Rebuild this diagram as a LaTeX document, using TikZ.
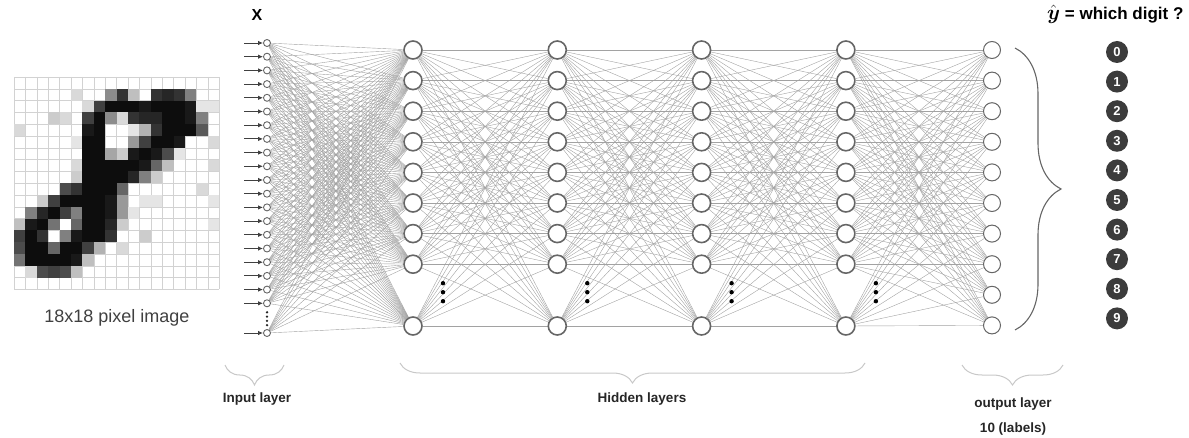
\documentclass[tikz,border=0pt]{standalone}
\usepackage{fontspec}
\setmainfont{Liberation Sans}
\usepackage{amsmath}
\usepackage{amssymb}
\usetikzlibrary{arrows.meta,decorations.pathreplacing,calc,backgrounds}
\definecolor{NodeGray}{HTML}{666666}
\definecolor{EdgeGray}{HTML}{A2A2A2}
\definecolor{DigitDark}{HTML}{3C3C3C}
\definecolor{BraceGray}{HTML}{C8C8C8}
\tikzset{
    innode/.style = {draw=NodeGray, circle, fill=white, inner sep=0pt,
        minimum size=7pt, line width=0.9pt},
    hidnode/.style = {draw=NodeGray, circle, fill=white, inner sep=0pt,
        minimum size=18pt, line width=1.6pt},
    outnode/.style = {draw=NodeGray, circle, fill=white, inner sep=0pt,
        minimum size=17pt, line width=1pt},
    digit/.style = {circle, fill=DigitDark, text=white, inner sep=0pt,
        minimum size=22pt, font=\bfseries\fontsize{13}{13}\selectfont},
    wire/.style = {draw=EdgeGray, line width=0.4pt},
    inarrow/.style = {draw=black!75, line width=0.9pt, -{Latex[length=5pt,width=4.5pt]}},
    pixgrid/.style = {draw=gray!35, line width=0.5pt},
    layerbrace/.style = {draw=BraceGray, line width=1pt, decorate,
        decoration={brace, mirror, amplitude=20pt}},
    outbrace/.style = {draw=NodeGray, line width=1.1pt, decorate,
        decoration={brace, amplitude=46pt}},
    lbl/.style = {font=\bfseries\fontsize{13.5}{14}\selectfont, text=black!85}
}

\begin{document}
\begin{tikzpicture}[x=1pt, y=-1pt]
    \useasboundingbox (0,0) rectangle (1189,438);
    % pixel image
    \foreach \i in {0,...,18}{
        \draw[pixgrid] (14+11.4*\i,77) -- (14+11.4*\i,289.4);
        \draw[pixgrid] (14,77+11.8*\i) -- (219.2,77+11.8*\i);
    }
    \foreach \row [count=\r from 0] in {
        {0,0,0,0,0,0,0,0,0,0,0,0,0,0,0,0,0,0},
        {0,0,0,0,0,15,0,0,45,80,25,0,80,85,80,50,0,0},
        {0,0,0,0,0,0,15,75,95,95,95,90,95,95,95,90,10,10},
        {0,0,0,20,15,0,75,95,45,15,80,85,85,95,95,90,50,0},
        {15,0,0,0,0,0,90,95,0,0,10,30,80,95,95,95,65,0},
        {0,0,0,0,0,10,95,95,0,0,40,75,95,95,90,0,0,15},
        {0,0,0,0,0,0,95,95,35,20,90,95,90,70,10,0,0,0},
        {0,0,0,0,0,15,95,95,95,95,95,90,60,25,0,0,0,15},
        {0,0,0,0,0,20,95,95,95,95,85,50,20,0,0,0,0,0},
        {0,0,0,0,70,80,95,95,95,60,0,0,0,0,0,0,15,0},
        {0,0,20,75,95,95,95,95,90,40,0,10,10,0,0,0,0,10},
        {0,50,85,95,75,50,95,95,90,40,10,0,0,0,0,0,0,0},
        {25,90,95,55,0,60,95,95,85,20,0,0,0,0,0,0,0,10},
        {75,95,80,0,50,90,95,95,80,0,0,20,0,0,0,0,0,0},
        {70,95,95,60,95,95,75,30,0,15,0,0,0,0,0,0,0,0},
        {55,95,95,95,95,90,25,0,0,0,0,0,0,0,0,0,0,0},
        {0,15,70,75,70,25,0,0,0,0,0,0,0,0,0,0,0,0},
        {0,0,0,0,0,0,0,0,0,0,0,0,0,0,0,0,0,0}}{
        \foreach \v [count=\c from 0] in \row {
            \ifnum\v>0
                \fill[black!\v] (14+11.4*\c,77+11.8*\r) rectangle ++(11.4,11.8);
            \fi
        }
    }
    \node[font=\fontsize{18}{18}\selectfont, text=black!75] (pixlbl) at (117,318) {18x18 pixel image};

    % input layer
    \node[font=\bfseries\fontsize{16}{16}\selectfont] (xlbl) at (257,15) {X};
    \foreach \i in {1,...,20}{
        \node[innode] (in\i) at (267,43+13.7*\i-13.7) {};
    }
    \node[innode] (in21) at (267,333) {};
    \foreach \i in {1,...,21}{
        \coordinate (src\i) at ($(in\i)+(-23,0)$);
        \draw[inarrow] (src\i) -- (in\i);
    }
    \foreach \d in {0,...,3}{
        \fill[black!85] ($(in20)+(0,9+4.3*\d)$) circle[radius=1.3pt];
    }

    % hidden layers
    \foreach \l [evaluate=\l as \lx using 413+144.3*(\l-1)] in {1,...,4}{
        \foreach \j in {1,...,8}{
            \node[hidnode] (h\l-\j) at (\lx,50+30.6*\j-30.6) {};
        }
        \node[hidnode] (h\l-9) at (\lx,326) {};
        \foreach \d in {0,1,2}{
            \fill ($(h\l-8)+(30,19+9*\d)$) circle[radius=2.2pt];
        }
    }

    % output layer
    \foreach \k in {1,...,10}{
        \node[outnode] (out\k) at (992,50+30.6*\k-30.6) {};
    }

    \begin{scope}[on background layer]
        \foreach \i in {1,...,21}{
            \foreach \j in {1,...,9}{
                \draw[wire] (in\i) -- (h1-\j);
            }
        }
        \foreach \l [evaluate=\l as \nl using int(\l+1)] in {1,2,3}{
            \foreach \i in {1,...,9}{
                \foreach \j in {1,...,9}{
                    \draw[wire] (h\l-\i) -- (h\nl-\j);
                }
            }
        }
        \foreach \i in {1,...,9}{
            \foreach \k in {1,...,10}{
                \draw[wire] (h4-\i) -- (out\k);
            }
        }
    \end{scope}

    % labels
    \coordinate (brtop) at (1015,48);
    \coordinate (brbot) at (1015,330);
    \draw[outbrace] (brtop) -- (brbot);
    \foreach \k [evaluate=\k as \dy using 52+29.6*\k] in {0,...,9}{
        \node[digit] (dig\k) at (1117,\dy) {\k};
    }
    \node[anchor=east, font=\bfseries\fontsize{17}{17}\selectfont] (title) at (1187,14)
        {{\fontsize{21}{21}\selectfont$\hat{\boldsymbol{y}}$}\ = which digit ?};

    \draw[layerbrace] (225,365) -- (284,365);
    \draw[layerbrace] (400,363) -- (865,363);
    \draw[layerbrace] (962,365) -- (1063,365);
    \node[lbl] (inlbl) at (257,399) {Input layer};
    \node[lbl] (hidlbl) at (642,399) {Hidden layers};
    \node[lbl] (outlbl) at (1013,404) {output layer};
    \node[lbl] (nlbl) at (1013,429) {10 (labels)};
\end{tikzpicture}
\end{document}
